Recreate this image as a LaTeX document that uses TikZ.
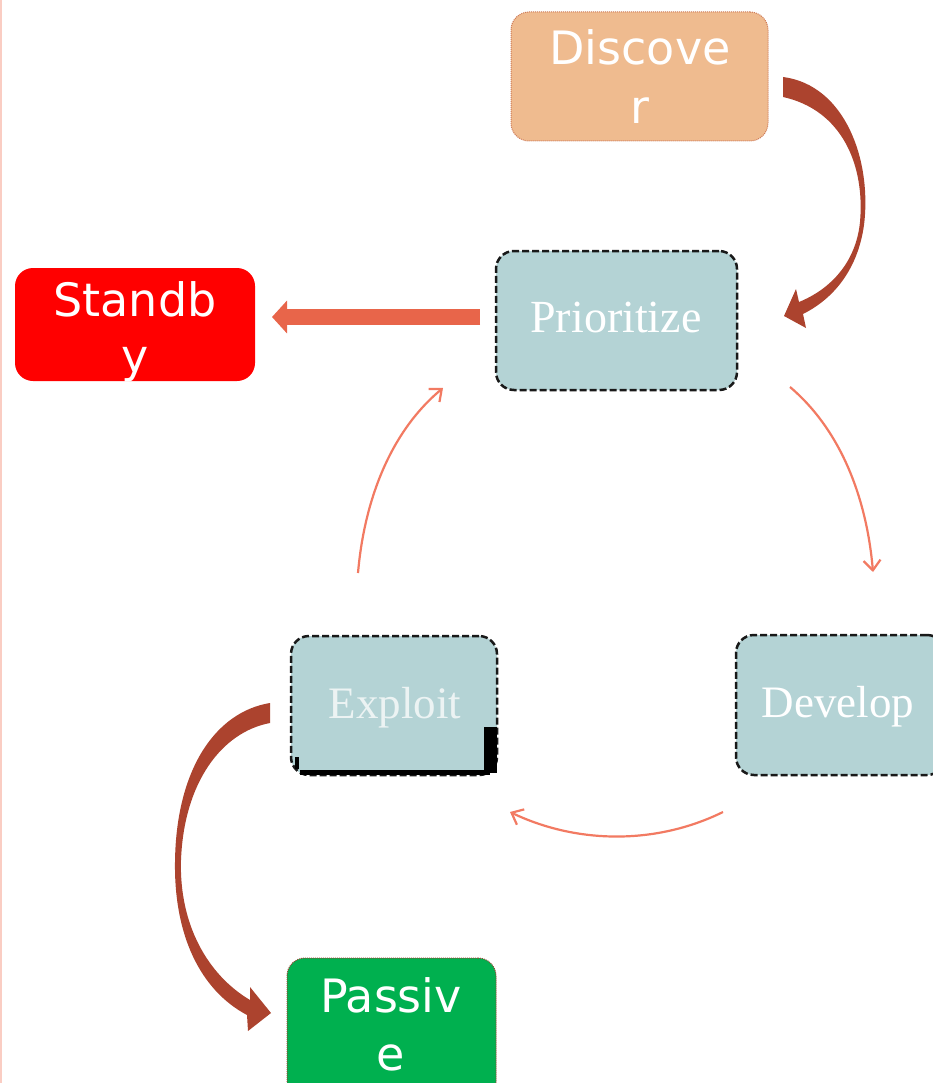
\documentclass[tikz,border=0pt]{standalone}
\usepackage{fontspec}
\setmainfont{Liberation Serif}
\newfontfamily\boxsans{DejaVu Sans}
\usetikzlibrary{arrows.meta}
\definecolor{peach}{RGB}{239,187,143}
\definecolor{peachline}{RGB}{205,120,85}
\definecolor{tealbox}{RGB}{180,211,213}
\definecolor{redbox}{RGB}{255,0,0}
\definecolor{greenbox}{RGB}{0,176,79}
\definecolor{greenline}{RGB}{150,70,50}
\definecolor{brownarrow}{RGB}{172,67,46}
\definecolor{coral}{RGB}{232,101,74}
\definecolor{thincoral}{RGB}{242,122,98}
\definecolor{edgepink}{RGB}{250,205,195}
\definecolor{dimwhite}{RGB}{236,243,243}
\begin{document}
\begin{tikzpicture}[x=1pt,y=-1pt,
  box/.style={rectangle, rounded corners=18pt, inner sep=0pt, outer sep=0pt},
  tealstyle/.style={box, fill=tealbox, draw=black!90, line width=2.5pt, dash pattern=on 7pt off 3pt},
  sanstxt/.style={anchor=base, inner sep=0pt, text=white, font=\boxsans\fontsize{46}{56}\selectfont},
  seriftxt/.style={anchor=base, inner sep=0pt, text=white, font=\fontsize{45}{54}\selectfont},
  thinarrow/.style={draw=thincoral, line width=2.2pt, -{Straight Barb[length=10pt,width=17pt]}},
  bigarrow/.style={fill=brownarrow}
]
\useasboundingbox (0,0) rectangle (932,1083);
\fill[white] (0,0) rectangle (932,1083);
\draw[edgepink, line width=2pt] (1,0) -- (1,1083);

% boxes
\node[box, fill=peach, draw=peachline, densely dotted, line width=1pt,
      minimum width=257pt, minimum height=129pt] (discover) at (639.5,76.5) {};
\node[tealstyle, minimum width=241pt, minimum height=139pt] (prio) at (616.5,320.5) {};
\node[box, fill=redbox, minimum width=240pt, minimum height=113pt] (standby) at (135,324.5) {};
\node[tealstyle, minimum width=206pt, minimum height=139pt] (exploit) at (394,705.5) {};
\node[tealstyle, minimum width=209pt, minimum height=140pt] (develop) at (840.5,705) {};
\node[box, fill=greenbox, draw=greenline, densely dotted, line width=1pt,
      minimum width=209pt, minimum height=142pt] (passive) at (391.5,1029) {};

% artefacts on Exploit box
\fill[black] (484,727) rectangle (497,773);
\fill[black] (300,770) rectangle (490,775);
\fill[black] (295,757) rectangle (299,769);

% texts
\node[sanstxt] (discT1) at (640,65) {Discove};
\node[sanstxt] (discT2) at (640,124) {r};
\node[seriftxt, font=\fontsize{46}{54}\selectfont] (prioT) at (616,332) {Prioritize};
\node[sanstxt] (standT1) at (135,316) {Standb};
\node[sanstxt] (standT2) at (135,372) {y};
\node[seriftxt, text=dimwhite] (exploitT) at (395,718) {Exploit};
\node[seriftxt] (developT) at (838,717) {Develop};
\node[sanstxt] (passT1) at (391,1012) {Passiv};
\node[sanstxt] (passT2) at (391,1070) {e};

% thick curved arrow Discover -> Prioritize
\fill[bigarrow] (783,97) -- (783,77)
  .. controls (845,85) and (872,160) .. (864,225)
  .. controls (858,268) and (835,298) .. (803,314)
  -- (806,328) -- (784,316) -- (796,289) -- (799,302)
  .. controls (831,289) and (856,262) .. (860,222)
  .. controls (865,165) and (842,110) .. (783,97) -- cycle;

% thick curved arrow Exploit -> Passive
\fill[bigarrow] (270,703) -- (270,723)
  .. controls (222,732) and (184,782) .. (181,860)
  .. controls (179,925) and (208,975) .. (250,1000)
  -- (250,987) -- (271,1013) -- (248,1031) -- (247,1015)
  .. controls (200,990) and (174,935) .. (175,862)
  .. controls (176,770) and (215,712) .. (270,703) -- cycle;

% thick straight arrow Prioritize -> Standby
\coordinate (sbS) at (480,317);
\coordinate (sbE) at (272,317);
\draw[coral, line width=16pt, -{Triangle[length=15pt,width=32pt]}] (sbS) -- (sbE);

% thin cycle arrows
\coordinate (pdS) at (790,387);
\coordinate (pdE) at (873,572);
\draw[thinarrow] (pdS) .. controls (843,432) and (867,502) .. (pdE);
\coordinate (deS) at (723,812);
\coordinate (deE) at (510,812);
\draw[thinarrow] (deS) .. controls (656,845) and (577,844) .. (deE);
\coordinate (epS) at (358,573);
\coordinate (epE) at (443,388);
\draw[thinarrow] (epS) .. controls (364,503) and (389,433) .. (epE);
\end{tikzpicture}
\end{document}
